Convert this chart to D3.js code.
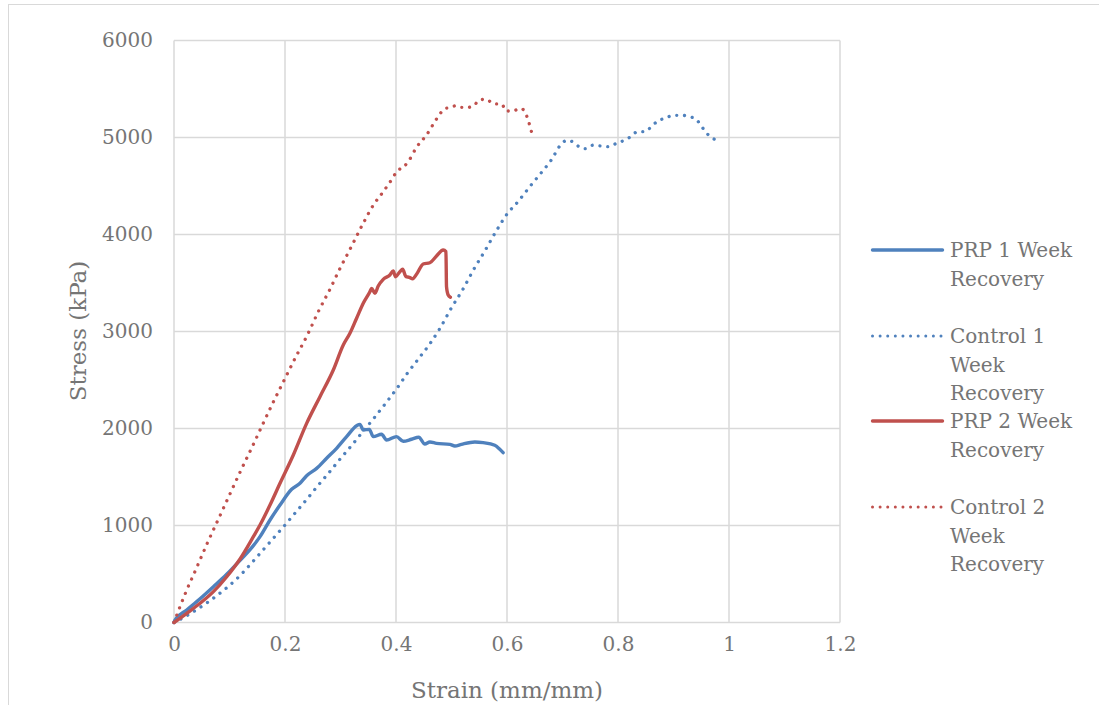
<!DOCTYPE html>
<html><head><meta charset="utf-8">
<script src="https://cdn.jsdelivr.net/npm/d3@7"></script>
<style>body{margin:0;background:#fff}svg{display:block}</style>
</head><body>
<svg id="c" width="1099" height="705"></svg>
<script>
const xTicks = [0, 0.2, 0.4, 0.6, 0.8, 1, 1.2];
const yTicks = [0, 1000, 2000, 3000, 4000, 5000, 6000];
const seriesNames = ["PRP 1 Week Recovery", "Control 1 Week Recovery", "PRP 2 Week Recovery", "Control 2 Week Recovery"];
const legendLines = [["PRP 1 Week", "Recovery"], ["Control 1", "Week", "Recovery"], ["PRP 2 Week", "Recovery"], ["Control 2", "Week", "Recovery"]];

const prp1 = [[0,0],[0.002,26],[0.023,129],[0.047,245],[0.071,369],[0.095,497],[0.119,641],[0.143,792],[0.155,885],[0.173,1057],[0.191,1211],[0.212,1373],[0.227,1435],[0.239,1513],[0.257,1589],[0.275,1693],[0.293,1796],[0.311,1916],[0.329,2029],[0.335,2043],[0.341,1985],[0.352,1991],[0.359,1916],[0.374,1940],[0.383,1881],[0.401,1916],[0.413,1868],[0.428,1889],[0.441,1910],[0.452,1840],[0.461,1861],[0.473,1847],[0.497,1837],[0.506,1820],[0.518,1837],[0.542,1861],[0.557,1854],[0.578,1827],[0.587,1786],[0.593,1751]];

const control1 = [[0,0],[0.02,60],[0.04,130],[0.06,205],[0.08,290],[0.10,382],[0.12,490],[0.14,615],[0.16,745],[0.18,875],[0.20,1005],[0.22,1140],[0.24,1275],[0.26,1415],[0.28,1550],[0.30,1690],[0.32,1825],[0.34,1965],[0.36,2105],[0.38,2250],[0.40,2400],[0.42,2565],[0.44,2715],[0.46,2865],[0.48,3040],[0.50,3245],[0.52,3430],[0.54,3640],[0.56,3830],[0.58,4030],[0.60,4210],[0.62,4340],[0.64,4485],[0.66,4625],[0.68,4770],[0.697,4926],[0.708,4971],[0.721,4947],[0.731,4899],[0.741,4885],[0.754,4920],[0.769,4912],[0.783,4905],[0.796,4936],[0.811,4971],[0.823,5008],[0.835,5060],[0.849,5060],[0.861,5119],[0.872,5170],[0.886,5201],[0.90,5229],[0.914,5229],[0.929,5215],[0.942,5180],[0.951,5111],[0.96,5043],[0.971,4992],[0.984,4954]];

const prp2 = [[0,0],[0.023,95],[0.047,198],[0.071,318],[0.095,472],[0.119,655],[0.143,885],[0.155,1005],[0.173,1211],[0.191,1435],[0.215,1727],[0.239,2053],[0.263,2328],[0.287,2603],[0.305,2861],[0.317,2981],[0.329,3136],[0.341,3291],[0.353,3410],[0.356,3445],[0.362,3394],[0.368,3469],[0.377,3538],[0.389,3582],[0.395,3624],[0.399,3565],[0.407,3617],[0.412,3641],[0.418,3565],[0.424,3559],[0.430,3544],[0.437,3590],[0.449,3696],[0.461,3709],[0.473,3778],[0.485,3840],[0.490,3823],[0.491,3462],[0.494,3376],[0.498,3353]];

const control2 = [[0,0],[0.02,295],[0.04,555],[0.06,818],[0.08,1066],[0.10,1315],[0.12,1562],[0.14,1800],[0.16,2045],[0.18,2285],[0.20,2515],[0.22,2744],[0.24,2960],[0.26,3205],[0.28,3425],[0.30,3660],[0.32,3880],[0.34,4106],[0.36,4310],[0.377,4441],[0.394,4582],[0.402,4655],[0.412,4689],[0.422,4751],[0.437,4899],[0.455,5026],[0.471,5173],[0.479,5242],[0.489,5301],[0.497,5307],[0.508,5328],[0.518,5311],[0.530,5311],[0.541,5332],[0.550,5387],[0.563,5394],[0.575,5349],[0.591,5342],[0.598,5273],[0.610,5273],[0.625,5301],[0.634,5242],[0.639,5163],[0.643,5081],[0.647,5002]];

const blue = "#4F81BD", red = "#C0504D";
const series = [
  {data: prp1, color: blue, dotted: false},
  {data: control1, color: blue, dotted: true},
  {data: prp2, color: red, dotted: false},
  {data: control2, color: red, dotted: true}
];

const svg = d3.select("#c");
const font = "'DejaVu Serif', serif";
const textCol = "#757575";
const gridCol = "#d9d9d9";

svg.append("rect").attr("x", 8.5).attr("y", 4.5).attr("width", 1200).attr("height", 800)
  .attr("fill", "none").attr("stroke", gridCol).attr("stroke-width", 1);

const x = d3.scaleLinear().domain([0, 1.2]).range([174, 840]);
const y = d3.scaleLinear().domain([0, 6000]).range([622.5, 40.5]);

svg.append("g").selectAll("line").data(xTicks).join("line")
  .attr("x1", d => x(d)).attr("x2", d => x(d)).attr("y1", y(0)).attr("y2", y(6000))
  .attr("stroke", gridCol).attr("stroke-width", 1.5);
svg.append("g").selectAll("line").data(yTicks).join("line")
  .attr("x1", x(0)).attr("x2", x(1.2)).attr("y1", d => y(d)).attr("y2", d => y(d))
  .attr("stroke", gridCol).attr("stroke-width", 1.5);

const xAxis = svg.append("g").attr("transform", `translate(0,${y(0)})`)
  .call(d3.axisBottom(x).tickValues(xTicks).tickSize(0).tickPadding(22).tickFormat(d => d3.format("~g")(d)));
const yAxis = svg.append("g").attr("transform", `translate(${x(0)},0)`)
  .call(d3.axisLeft(y).tickValues(yTicks).tickSize(0).tickPadding(21).tickFormat(d3.format("d")));
[xAxis, yAxis].forEach(a => {
  a.select(".domain").remove();
  a.selectAll("text").attr("fill", textCol).style("font-family", font).style("font-size", "20px");
});
xAxis.selectAll("text").attr("dy", "0.3em");

const line = d3.line().x(d => x(d[0])).y(d => y(d[1])).curve(d3.curveMonotoneX);
series.forEach(s => {
  const p = svg.append("path").datum(s.data).attr("d", line)
    .attr("fill", "none").attr("stroke", s.color)
    .attr("stroke-linejoin", "round");
  if (s.dotted) p.attr("stroke-width", 3.3).attr("stroke-dasharray", "0.01 7.8").attr("stroke-linecap", "round");
  else p.attr("stroke-width", 3.4).attr("stroke-linecap", "round");
});

svg.append("text").attr("x", 507).attr("y", 690).attr("text-anchor", "middle").attr("dy", "0.35em")
  .attr("fill", textCol).style("font-family", font).style("font-size", "23px").text("Strain (mm/mm)");
svg.append("text").attr("transform", "translate(78,331) rotate(-90)").attr("text-anchor", "middle").attr("dy", "0.35em")
  .attr("fill", textCol).style("font-family", font).style("font-size", "23px").text("Stress (kPa)");

const legendY = [250, 336, 421, 507];
const lg = svg.append("g");
series.forEach((s, i) => {
  const g = lg.append("g");
  const l = g.append("line").attr("x1", 872.5).attr("x2", 942.5).attr("y1", legendY[i]).attr("y2", legendY[i])
    .attr("stroke", s.color);
  if (s.dotted) l.attr("stroke-width", 3).attr("stroke-dasharray", "0.01 7.6").attr("stroke-linecap", "round");
  else l.attr("stroke-width", 3.4).attr("stroke-linecap", "round");
  const t = g.append("text").attr("x", 950).attr("y", legendY[i]).attr("fill", textCol)
    .style("font-family", font).style("font-size", "20px");
  legendLines[i].forEach((ln, j) => {
    t.append("tspan").attr("x", 950).attr("y", legendY[i] + j * 28.7).attr("dy", "0.35em").text(ln);
  });
});
</script>
</body></html>
